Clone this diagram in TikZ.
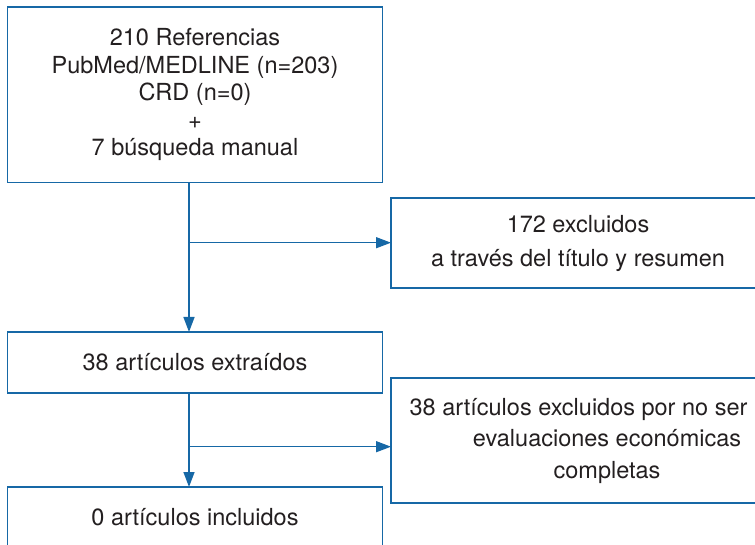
\documentclass[tikz,border=0pt]{standalone}
\usepackage{fontspec}
\setmainfont{TeX Gyre Heros}
\usepackage{tikz}
\usetikzlibrary{arrows.meta}
\usetikzlibrary{positioning}
\definecolor{flowblue}{RGB}{22,104,166}
\definecolor{flowtext}{RGB}{35,31,32}

\begin{document}
\begin{tikzpicture}[x=1pt, y=-1pt]
\tikzstyle{box}=[draw=flowblue, line width=1.4pt, inner sep=0pt, outer sep=0pt, text=flowtext, align=center]
\tikzstyle{arr}=[draw=flowblue, line width=1.4pt, -{Triangle[length=15pt, width=11pt]}]
\useasboundingbox (0,0) rectangle (755,545);
\node[box, minimum width=375pt, minimum height=175.5pt, font=\fontsize{23.5}{27.5}\selectfont] (refs) at (195,94.75)
  {210 Referencias\\ PubMed/MEDLINE (n=203)\\ CRD (n=0)\\ +\\ 7 búsqueda manual};
\node[box, minimum width=374pt, minimum height=90pt, font=\fontsize{23.5}{34}\selectfont] (excl1) at (578,243)
  {172 excluidos\\ a través del título y resumen};
\node[box, minimum width=375pt, minimum height=61pt, font=\fontsize{23.5}{27.5}\selectfont] (extr) at (195,362.5)
  {38 artículos extraídos};
\node[box, minimum width=432pt, minimum height=125pt, font=\fontsize{23.5}{31.5}\selectfont] (excl2) at (607,440.5)
  {38 artículos excluidos por no ser\hspace*{57pt}\\ evaluaciones económicas\\ completas};
\node[box, minimum width=375pt, minimum height=61pt, font=\fontsize{23.5}{27.5}\selectfont] (incl) at (195,517.5)
  {0 artículos incluidos};
% ramas hacia los excluidos
\coordinate (j1) at (189,242.7);
\coordinate (j2) at (189,446.7);
\draw[arr] (refs.south -| j1) -- (extr.north -| j1);
\draw[arr] (extr.south -| j2) -- (incl.north -| j2);
\foreach \j/\b in {j1/excl1, j2/excl2}{
\draw[arr] (\j) -- (\j -| \b.west);}
\end{tikzpicture}
\end{document}
